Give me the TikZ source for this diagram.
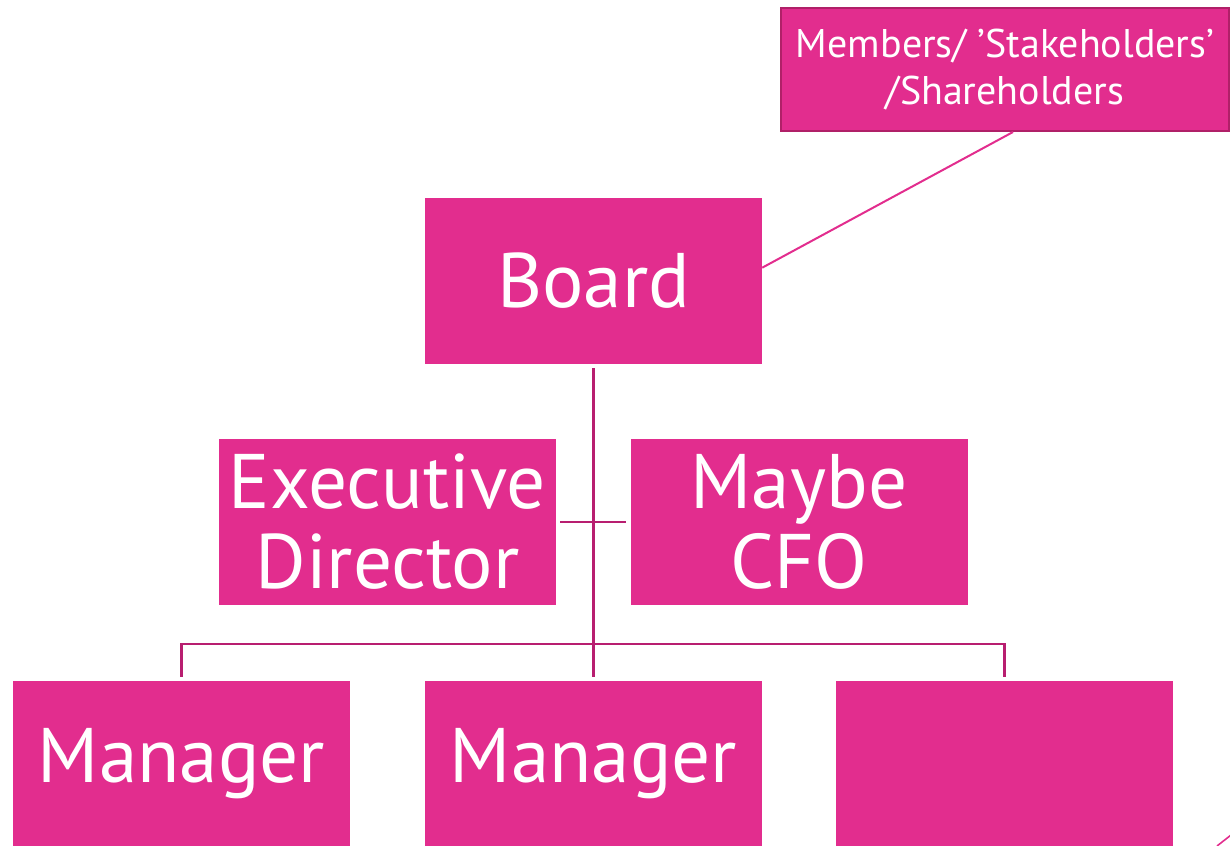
\documentclass[tikz,border=0pt]{standalone}
\usepackage{fontspec}
\setmainfont{PT Sans}
\usepackage{tikz}
\usetikzlibrary{positioning}
\definecolor{boxpink}{RGB}{226,45,142}
\definecolor{linkplum}{RGB}{184,30,112}
\definecolor{rimplum}{RGB}{176,32,104}
\tikzset{
    orgbox/.style={fill=boxpink, text=white, inner sep=0pt, align=center,
        minimum width=337*0.75pt, minimum height=166*0.75pt,
        font=\fontsize{58}{60}\selectfont},
    link/.style={draw=linkplum, line width=2.2pt},
}

\begin{document}
\begin{tikzpicture}[x=0.75pt, y=-0.75pt]
    % page limits
    \useasboundingbox (0,0) rectangle (1230,845);
    \clip (0,0) rectangle (1230,845);
    % owners box
    \node[orgbox, draw=rimplum, line width=1.5pt, minimum width=448*0.75pt, minimum height=123*0.75pt,
        font=\fontsize{30}{35}\selectfont] (members) at (1005,69.5) {Members/ ’Stakeholders’\\/Shareholders};
    % board
    \node[orgbox] (board) at (593.5,281) {Board};
    % second row
    \node[orgbox] (exec) at (387.5,522) {Executive\\Director};
    \node[orgbox] (cfo) at (799,522) {Maybe\\CFO};
    % last row
    \node[orgbox] (mgrA) at (181.5,764) {Manager};
    \node[orgbox] (mgrB) at (593.5,764) {Manager};
    \node[orgbox] (blank) at (1004.5,764) {};
    % bus line
    \coordinate (bus) at (593.5,644);
    \coordinate (edgeA) at (1217,846);
    \coordinate (edgeB) at (1231,835);
    % connectors
    \draw[link, shorten <=3pt, shorten >=3pt] (board.south) -- (mgrB.north);
    \draw[link, shorten <=3pt, shorten >=3pt] (exec.east) -- (cfo.west);
    \draw[link, shorten <=3pt, shorten >=3pt] (mgrA.north) |- (bus) -| (blank.north);
    \draw[boxpink, line width=1.5pt] ([xshift=6pt]members.south) -- ([yshift=10pt]board.east);
    \draw[boxpink, line width=1.2pt] (edgeA) -- (edgeB);
\end{tikzpicture}
\end{document}
